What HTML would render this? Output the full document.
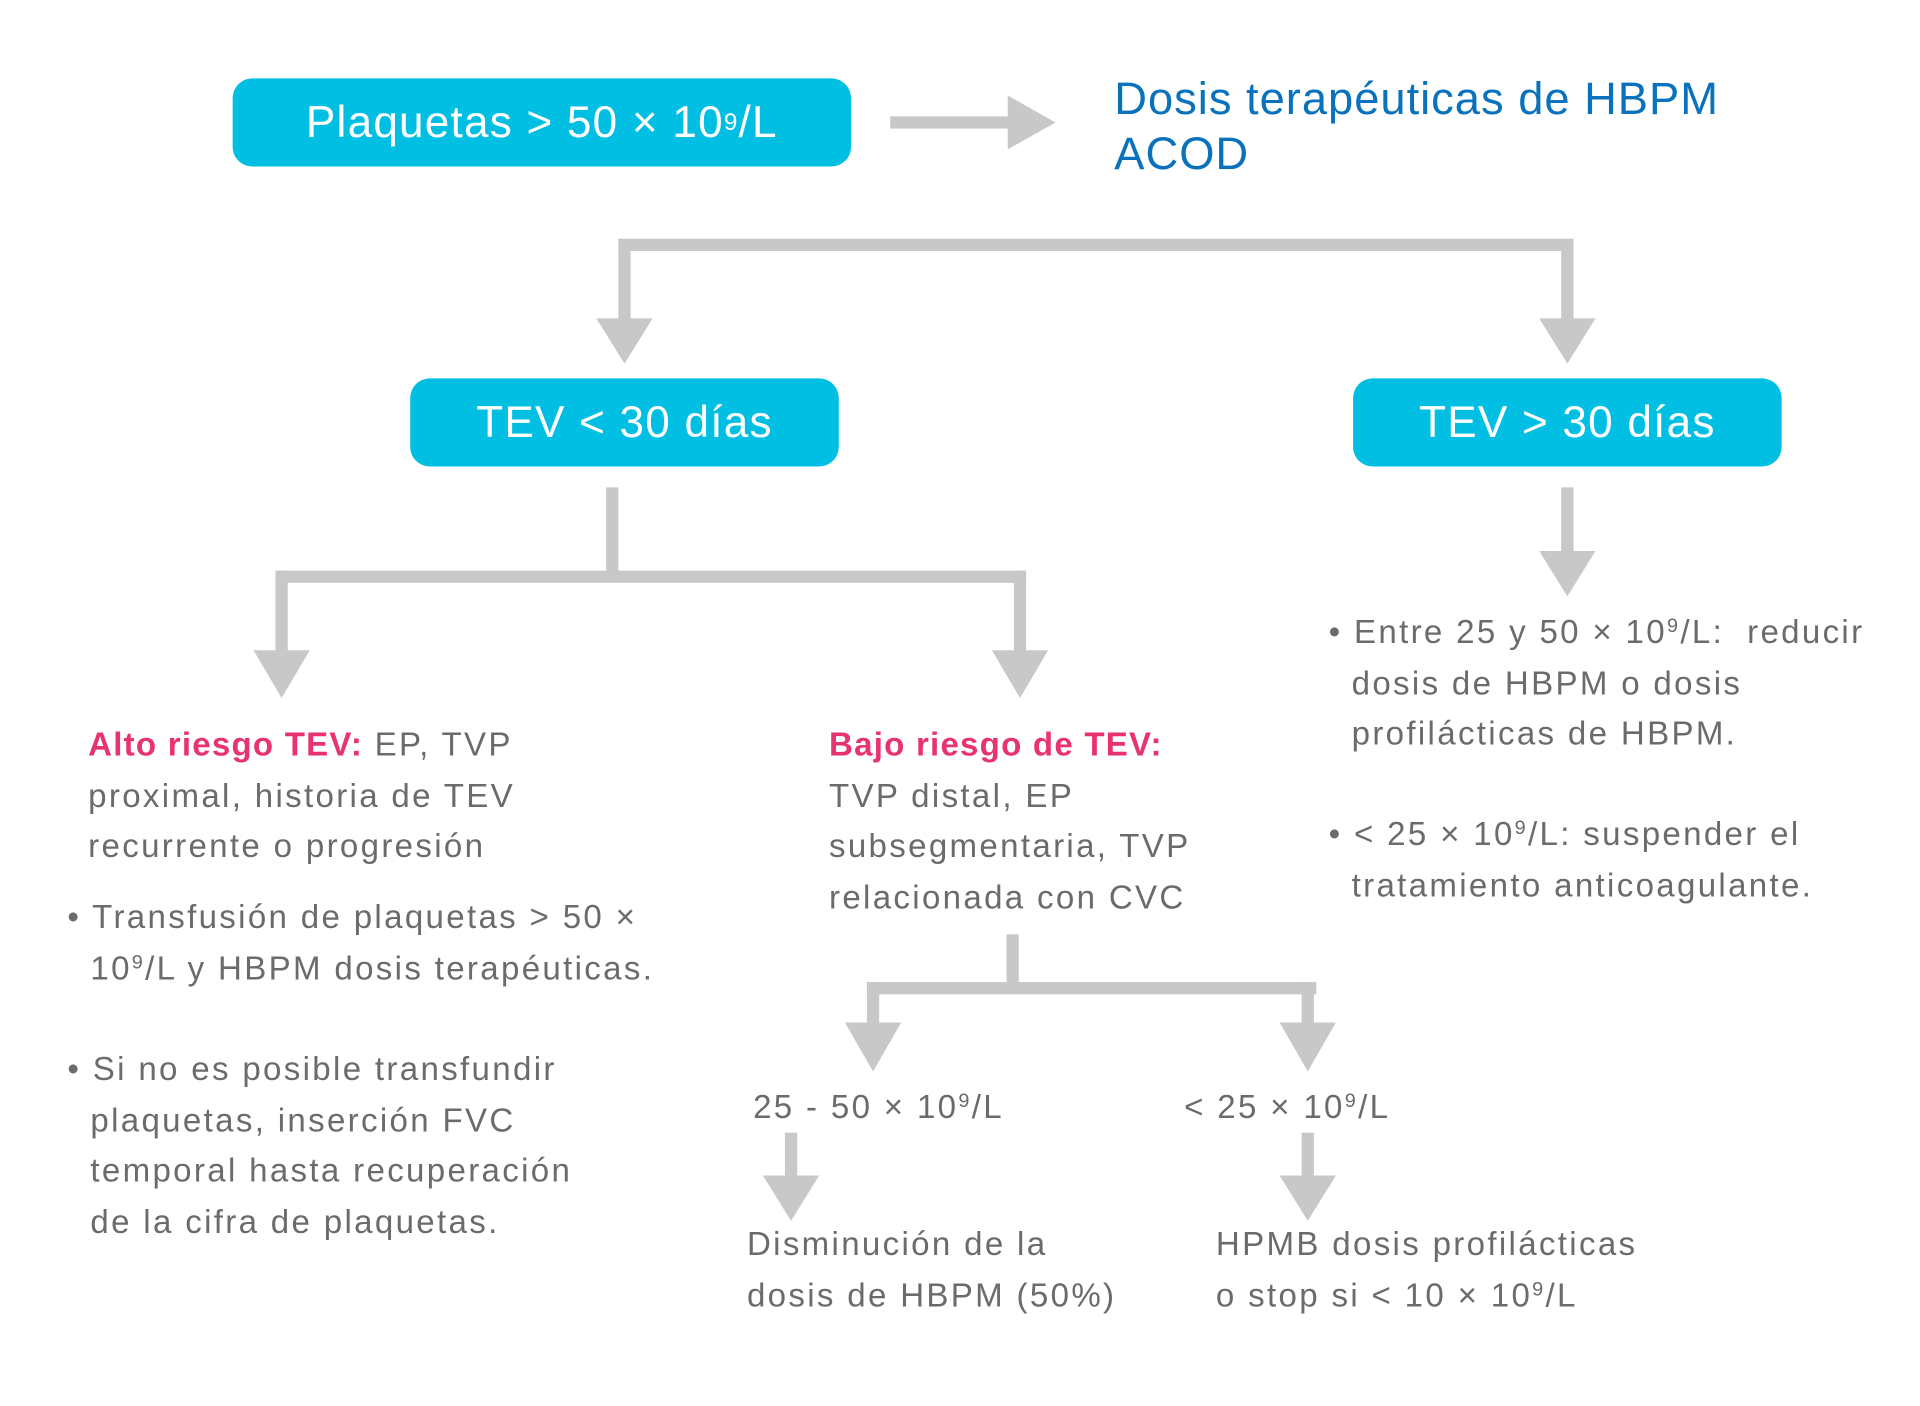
<!DOCTYPE html>
<html><head><meta charset="utf-8">
<style>
html,body{margin:0;padding:0;background:#fff;}
body{width:1920px;height:1406px;overflow:hidden;}
#c{position:absolute;left:0;top:0;width:1568px;height:1148px;transform:scale(1.2245);transform-origin:0 0;font-family:"Liberation Sans",sans-serif;color:#6b6b6b;}
.box{position:absolute;background:#00bfe3;border-radius:16px;color:#fff;font-size:36px;letter-spacing:1px;display:flex;align-items:center;justify-content:center;}
.t{position:absolute;font-size:27px;line-height:41.5px;white-space:nowrap;letter-spacing:1.9px;}
.pk{color:#e8336e;font-weight:bold;letter-spacing:1px;}
sup{font-size:60%;vertical-align:0.55em;line-height:0;}
.box sup{font-size:55%;}
svg{position:absolute;left:0;top:0;}
</style></head><body><div id="c">
<svg width="1568" height="1148" viewBox="0 0 1568 1148">
<g fill="#c8c8c8">
<rect x="727" y="95" width="100" height="10"/><polygon points="823,78 862,100 823,122"/>
<rect x="505" y="195" width="780" height="10"/>
<rect x="505" y="195" width="10" height="70"/><polygon points="487,260 533,260 510,297"/>
<rect x="1275" y="195" width="10" height="70"/><polygon points="1257,260 1303,260 1280,297"/>
<rect x="495" y="398" width="10" height="75"/>
<rect x="225" y="466" width="613" height="10"/>
<rect x="225" y="466" width="10" height="70"/><polygon points="207,531 253,531 230,570"/>
<rect x="828" y="466" width="10" height="70"/><polygon points="810,531 856,531 833,570"/>
<rect x="1275" y="398" width="10" height="55"/><polygon points="1257,450 1303,450 1280,487"/>
<rect x="822" y="763" width="10" height="47"/>
<rect x="708" y="802" width="367" height="10"/>
<rect x="708" y="802" width="10" height="37"/><polygon points="690,835 736,835 713,875"/>
<rect x="1063" y="802" width="10" height="37"/><polygon points="1045,835 1091,835 1068,875"/>
<rect x="641" y="925" width="10" height="40"/><polygon points="623,960 669,960 646,997"/>
<rect x="1063" y="925" width="10" height="40"/><polygon points="1045,960 1091,960 1068,997"/>
</g></svg>
<div class="box" style="left:190px;top:64px;width:505px;height:72px;">Plaquetas &gt; 50 × 10<sup>9</sup>/L</div>
<div class="t" style="left:910px;top:58px;font-size:37px;line-height:45px;color:#0a72bd;letter-spacing:0.8px;">Dosis terapéuticas de HBPM<br>ACOD</div>
<div class="box" style="left:335px;top:309px;width:350px;height:72px;">TEV &lt; 30 días</div>
<div class="box" style="left:1105px;top:309px;width:350px;height:72px;">TEV &gt; 30 días</div>
<div class="t" style="left:72px;top:588px;"><span class="pk">Alto riesgo TEV:</span> EP, TVP<br>proximal, historia de TEV<br>recurrente o progresión</div>
<div class="t" style="left:55px;top:729px;">• Transfusión de plaquetas &gt; 50 ×<br>&nbsp;&nbsp;10<sup>9</sup>/L y HBPM dosis terapéuticas.</div>
<div class="t" style="left:55px;top:853px;">• Si no es posible transfundir<br>&nbsp;&nbsp;plaquetas, inserción FVC<br>&nbsp;&nbsp;temporal hasta recuperación<br>&nbsp;&nbsp;de la cifra de plaquetas.</div>
<div class="t" style="left:677px;top:588px;"><span class="pk">Bajo riesgo de TEV:</span><br>TVP distal, EP<br>subsegmentaria, TVP<br>relacionada con CVC</div>
<div class="t" style="left:1085px;top:496px;">• Entre 25 y 50 × 10<sup>9</sup>/L:&nbsp; reducir<br>&nbsp;&nbsp;dosis de HBPM o dosis<br>&nbsp;&nbsp;profilácticas de HBPM.</div>
<div class="t" style="left:1085px;top:661px;">• &lt; 25 × 10<sup>9</sup>/L: suspender el<br>&nbsp;&nbsp;tratamiento anticoagulante.</div>
<div class="t" style="left:615px;top:884px;">25 - 50 × 10<sup>9</sup>/L</div>
<div class="t" style="left:967px;top:884px;">&lt; 25 × 10<sup>9</sup>/L</div>
<div class="t" style="left:610px;top:996px;">Disminución de la<br>dosis de HBPM (50%)</div>
<div class="t" style="left:993px;top:996px;">HPMB dosis profilácticas<br>o stop si &lt; 10 × 10<sup>9</sup>/L</div>
</div></body></html>
